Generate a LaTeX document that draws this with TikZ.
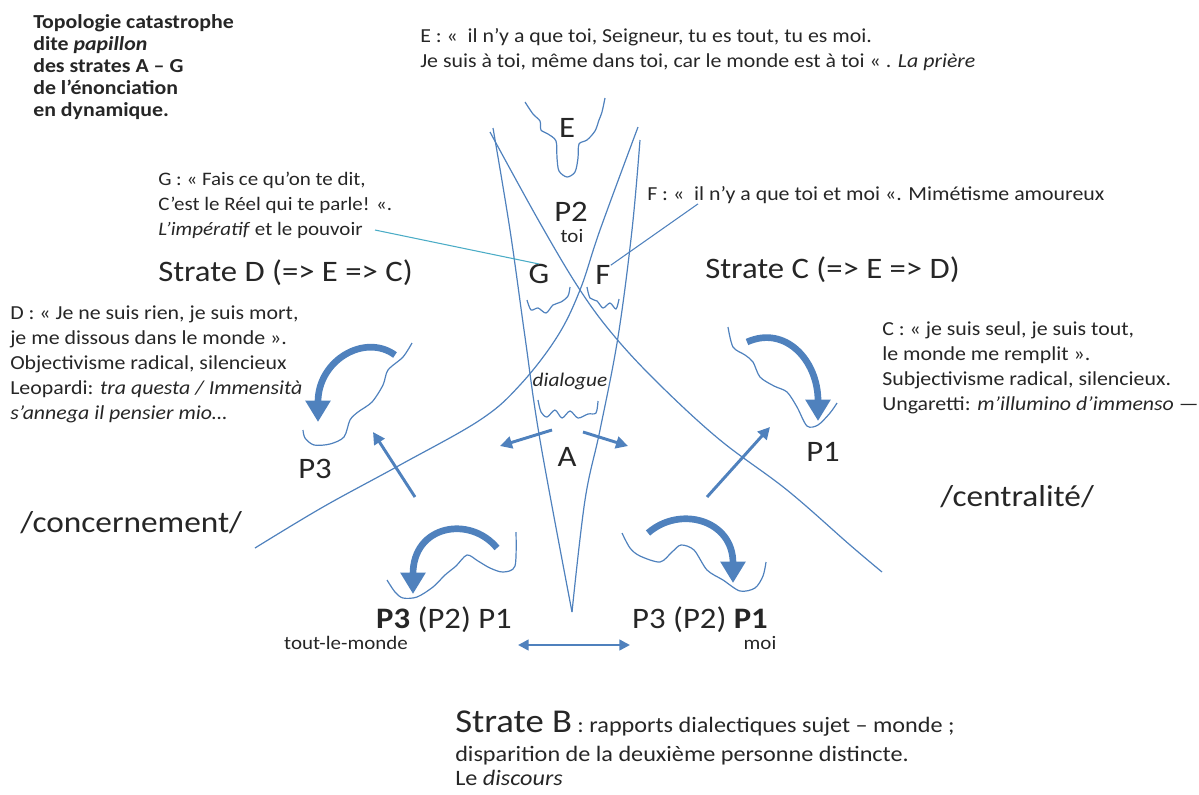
\documentclass[tikz,border=0pt]{standalone}
\usepackage{fontspec}
\setmainfont{Carlito}[FakeStretch=1.1]
\usetikzlibrary{arrows.meta, calc}
\definecolor{strokeblue}{RGB}{79,129,189}
\definecolor{leadcyan}{RGB}{75,172,198}
\definecolor{inkgrey}{RGB}{38,38,38}

\begin{document}
\begin{tikzpicture}[x=0.75pt, y=-0.75pt,
    every node/.style={text=inkgrey, inner sep=0pt},
    note/.style ={font=\fontsize{14.9}{18.75}\selectfont, align=left, anchor=base west},
    title/.style={font=\bfseries\fontsize{14.9}{16.5}\selectfont, align=left, anchor=base west},
    big/.style  ={font=\fontsize{22.3}{26}\selectfont},
    pole/.style ={font=\fontsize{22.7}{26}\selectfont, anchor=west},
    small/.style={font=\fontsize{14.3}{16}\selectfont},
    sheet/.style={strokeblue, line width=0.9pt, line join=round},
    push/.style ={strokeblue, line width=2.2pt, -{Triangle[length=9pt,width=9pt]}},
    swing/.style={strokeblue, line width=5pt, -{Triangle[length=16pt,width=18pt]}},
    leader/.style={line width=0.8pt},
]
\useasboundingbox (0,0) rectangle (1199,794);

% texts (multi-line nodes sit on the baseline of their last line)
\node[title] (title) at (33,116) {Topologie catastrophe\\ dite \textit{papillon}\\ des strates A -- G\\ de l’énonciation\\ en dynamique.};
\node[note] (etext) at (420,67) {E : «\ \ il n’y a que toi, Seigneur, tu es tout, tu es moi.\\ Je suis à toi, même dans toi, car le monde est à toi « . \textit{La prière}};
\node[note, font=\fontsize{14.3}{18.75}\selectfont] (gtext) at (158,235) {G : « Fais ce qu’on te dit,\\ C’est le Réel qui te parle! «.\\ \textit{L’impératif} et le pouvoir};
\node[note, anchor=west] (ftext) at (647,195) {F : «\ \ il n’y a que toi et moi «. Mimétisme amoureux};
\node[big, anchor=west] (strated) at (158,273) {Strate D (=> E => C)};
\node[big, anchor=west] (stratec) at (705,270) {Strate C (=> E => D)};
\node[note] (dtext) at (10,419) {D : « Je ne suis rien, je suis mort,\\ je me dissous dans le monde ».\\ Objectivisme radical, silencieux\\ Leopardi: \textit{tra questa / Immensità}\\ \textit{s'annega il pensier mio…}};
\node[note] (ctext) at (882,410) {C : « je suis seul, je suis tout,\\ le monde me remplit ».\\ Subjectivisme radical, silencieux.\\ Ungaretti: \textit{m’illumino d’immenso} ---};
\node[pole] (concern) at (20,523) {/concernement/};
\node[pole] (central) at (940,497) {/centralité/};

% letters of the strata
\node[big] (E)  at (567,128) {E};
\node[big] (P2) at (571,212) {P2};
\node[small] (toi) at (572,236) {toi};
\node[big] (G)  at (539,274) {G};
\node[big] (F)  at (603,275) {F};
\node[font=\itshape\fontsize{14.5}{18}\selectfont] (dial) at (570,381) {dialogue};
\node[big] (A)  at (567,457) {A};
\node[big] (P3) at (315,469) {P3};
\node[big] (P1) at (823,452) {P1};
\node[big] (bleft)  at (444,620) {\textbf{P3} (P2) P1};
\node[small] (world) at (346,643) {tout-le-monde};
\node[big] (bright) at (700,620) {P3 (P2) \textbf{P1}};
\node[small] (moi) at (760,643) {moi};
\node[note, font=\fontsize{16.5}{17.5}\selectfont] (btext) at (455,785) {{\fontsize{25}{28}\selectfont Strate B} : rapports dialectiques sujet -- monde ;\\[4.5pt] disparition de la deuxième personne distincte.\\ Le \textit{discours}};

% the two folds and the central cusp
\draw[sheet] plot[smooth, tension=0.6] coordinates {(493,128) (510,230) (525,337) (540,440) (572,612)};
\draw[sheet] plot[smooth, tension=0.6] coordinates {(640,140) (632,230) (618,337) (600,430) (585,500) (572,612)};
\draw[sheet] plot[smooth, tension=0.6] coordinates {(490,132) (540,223) (580,290) (615,337) (660,385) (720,440) (787,490) (850,545) (882,572)};
\draw[sheet] plot[smooth, tension=0.6] coordinates {(638,127) (600,230) (580,290) (557,337) (520,385) (480,420) (400,465) (323,507) (255,548)};

% wavy cusps
\draw[sheet] plot[smooth, tension=0.5] coordinates {(525,102) (533,114) (540,121) (541,130) (548,134) (556,141) (557,158) (559,171) (567,177) (575,172) (578,158) (579,144) (587,140) (595,131) (599,120) (602,112) (605,98)};
\draw[sheet] plot[smooth, tension=0.5] coordinates {(527,300) (531,310) (538,308) (546,313) (553,305) (561,302) (568,296) (570,287)};
\draw[sheet] plot[smooth, tension=0.5] coordinates {(587,287) (590,298) (597,301) (603,308) (610,303) (616,309) (619,299)};
\draw[sheet] plot[smooth, tension=0.5] coordinates {(538,400) (541,412) (547,417) (555,410) (562,418) (570,411) (578,418) (588,414) (596,413) (598,401)};
\draw[sheet] plot[smooth, tension=0.5] coordinates {(412,343) (403,357) (388,370) (383,385) (372,402) (358,412) (350,420) (344,437) (330,444) (314,445) (305,438) (303,430)};
\draw[sheet] plot[smooth, tension=0.5] coordinates {(728,327) (733,347) (745,355) (753,362) (760,377) (774,386) (787,392) (797,407) (807,426) (818,425) (830,413) (837,403)};
\draw[sheet] plot[smooth, tension=0.5] coordinates {(387,580) (395,592) (403,598) (417,597) (433,587) (445,575) (456,566) (467,555) (478,561) (490,568) (503,572) (515,566) (516,532)};
\draw[sheet] plot[smooth, tension=0.5] coordinates {(622,533) (630,548) (640,556) (660,562) (672,552) (681,545) (694,550) (707,570) (723,580) (740,591) (755,588) (763,576) (766,562)};

% leaders to G and F
\draw[leader, leadcyan] ($(gtext.base west)+(217,-5)$) -- (G.north);
\draw[leader, strokeblue] (F.north east) -- ($(ftext.south west)+(51,0)$);

% pushes
\draw[push] (552,430) -- (500,446);
\draw[push] (583,432) -- (628,446);
\draw[push] (415,497) -- (373,432);
\draw[push] (707,497) -- (770,427);
\draw[push, line width=1.8pt, {Triangle[length=8pt,width=8pt]}-{Triangle[length=8pt,width=8pt]}] (518,645) -- (630,645);

% swings
\draw[swing] (395,355) .. controls (365,333) and (318,360) .. (318,422);
\draw[swing] (747,342) .. controls (785,325) and (818,360) .. (818,421);
\draw[swing] (497,548) .. controls (470,515) and (413,525) .. (413,594);
\draw[swing] (648,533) .. controls (680,505) and (733,520) .. (733,583);
\end{tikzpicture}
\end{document}
